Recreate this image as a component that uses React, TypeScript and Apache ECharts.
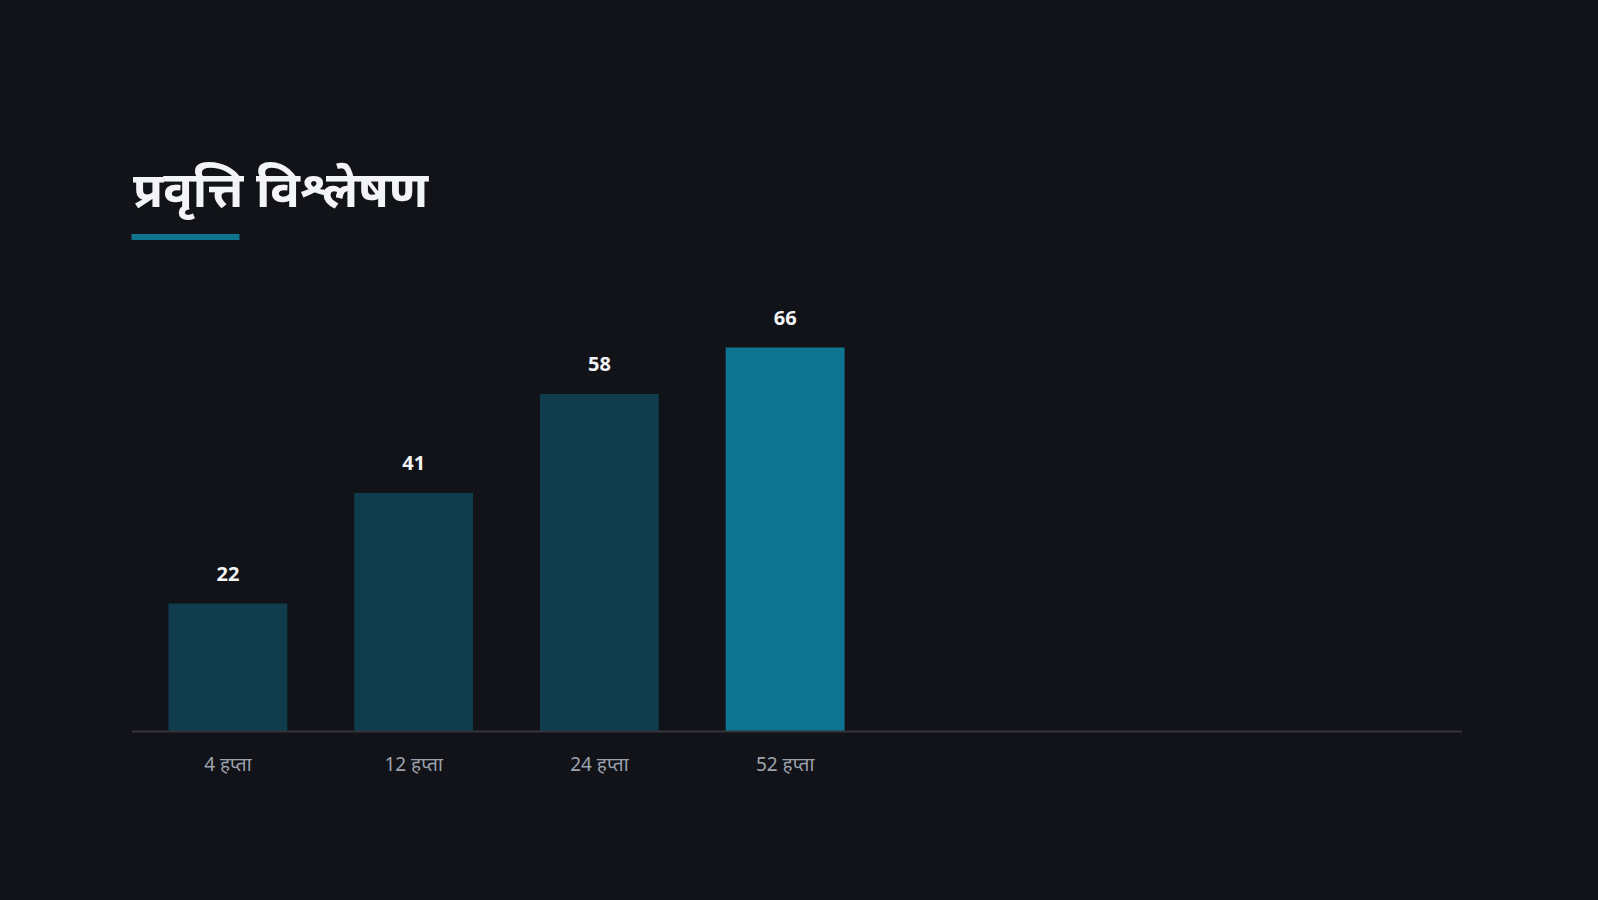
import React, { useEffect, useRef } from 'react';
import * as echarts from 'echarts';

const title = 'प्रवृत्ति विश्लेषण';
const categories = ['4 हप्ता', '12 हप्ता', '24 हप्ता', '52 हप्ता'];
const values = [22, 41, 58, 66];
const highlightIndex = 3;

const BG = '#121318';
const ACCENT = '#0e7490';
const MUTED_BAR = '#0f3d4d';

const App: React.FC = () => {
  const chartRef = useRef<HTMLDivElement>(null);

  useEffect(() => {
    document.body.style.margin = '0';
    document.body.style.background = BG;
    if (!chartRef.current) return;
    const chart = echarts.init(chartRef.current, undefined, { renderer: 'svg' });

    const options = {
      animation: false,
      backgroundColor: BG,
      textStyle: { fontFamily: '"Noto Sans", "Open Sans", sans-serif' },
      title: {
        text: title,
        left: 128,
        top: 158,
        textStyle: { color: '#f3f4f6', fontSize: 49, fontWeight: 'bold' },
      },
      graphic: [
        {
          type: 'rect',
          shape: { x: 131.5, y: 234, width: 108, height: 6 },
          style: { fill: ACCENT },
        },
        {
          type: 'line',
          shape: { x1: 132, y1: 731.5, x2: 1462, y2: 731.5 },
          style: { stroke: '#34353b', lineWidth: 2 },
          z: 10,
        },
      ],
      grid: { left: 135, width: 743, top: 149.5, bottom: 168.5 },
      xAxis: {
        type: 'category',
        data: categories,
        axisLine: { show: false },
        axisTick: { show: false },
        axisLabel: { color: '#9ca3af', fontSize: 19, margin: 23 },
      },
      yAxis: {
        type: 'value',
        min: 0,
        max: 100,
        show: false,
        splitLine: { show: false },
      },
      series: [
        {
          type: 'bar',
          barWidth: '64%',
          data: values.map((v, i) => ({
            value: v,
            itemStyle: { color: i === highlightIndex ? ACCENT : MUTED_BAR },
          })),
          label: {
            show: true,
            position: 'top',
            distance: 20,
            color: '#f3f4f6',
            fontSize: 20,
            fontWeight: 'bold',
          },
        },
      ],
    };

    chart.setOption(options);
    return () => {
      chart.dispose();
    };
  }, []);

  return <div ref={chartRef} style={{ width: '1598px', height: '900px' }} />;
};

export default App;
